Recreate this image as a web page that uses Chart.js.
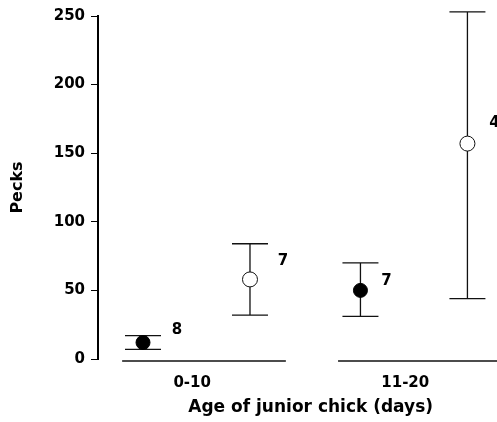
<!DOCTYPE html>
<html>
<head>
<meta charset="utf-8">
<script src="https://cdn.jsdelivr.net/npm/chart.js@4.4.1/dist/chart.umd.min.js"></script>
<style>
  html, body { margin: 0; padding: 0; background: #fff; }
  canvas { display: block; }
</style>
</head>
<body>
<canvas id="grafico" width="497" height="422"></canvas>
<script>
// Bicadas por idade do filhote mais novo: média com barras de erro.
const categorias = ['0-10', '11-20'];
const posCategoria = [0, 1];
const posRotulo = [-0.02, 0.96];
const deslocamento = 0.246;

// círculos cheios
const mediaCheio = [12, 50];
const supCheio = [17, 70];
const infCheio = [7, 31];
const nCheio = ['8', '7'];
const alturaNCheio = [21, 57];

// círculos vazios
const mediaVazio = [58, 157];
const supVazio = [84, 253];
const infVazio = [32, 44];
const nVazio = ['7', '4'];
const alturaNVazio = [71, 172];

// trechos da linha de base sob cada grupo
const trechosBase = [[-0.342, 0.411], [0.651, 1.382]];
const ticksY = [0, 50, 100, 150, 200, 250];

const FONTE = { family: '"DejaVu Sans", sans-serif', size: 15, weight: 'bold' };
const FONTE_TITULO = { ...FONTE, size: 16 };
const css = (f) => `bold ${f.size}px ${f.family}`;

// afastamento horizontal (px) dos rótulos de n
const dxCheio = [34, 26];
const dxVazio = [33, 27];

const pontosCheio = posCategoria.map((c, i) => ({ x: c - deslocamento, y: mediaCheio[i] }));
const pontosVazio = posCategoria.map((c, i) => ({ x: c + deslocamento, y: mediaVazio[i] }));

const extras = {
  id: 'extras',
  beforeDatasetsDraw(chart) {
    const { ctx, scales: { x, y } } = chart;
    ctx.save();
    ctx.strokeStyle = '#111';
    ctx.lineWidth = 1.3;
    const barra = (xv, lo, hi) => {
      const px = x.getPixelForValue(xv);
      const pLo = y.getPixelForValue(lo);
      const pHi = y.getPixelForValue(hi);
      const meia = 18;
      ctx.beginPath();
      ctx.moveTo(px, pLo); ctx.lineTo(px, pHi);
      ctx.moveTo(px - meia, pLo); ctx.lineTo(px + meia, pLo);
      ctx.moveTo(px - meia, pHi); ctx.lineTo(px + meia, pHi);
      ctx.stroke();
    };
    pontosCheio.forEach((p, i) => barra(p.x, infCheio[i], supCheio[i]));
    pontosVazio.forEach((p, i) => barra(p.x, infVazio[i], supVazio[i]));

    ctx.lineWidth = 1.5;
    const yBase = y.getPixelForValue(0) + 2;
    trechosBase.forEach(([a, b]) => {
      ctx.beginPath();
      ctx.moveTo(x.getPixelForValue(a), yBase);
      ctx.lineTo(x.getPixelForValue(b), yBase);
      ctx.stroke();
    });
    ctx.restore();
  },
  afterDatasetsDraw(chart) {
    const { ctx, scales: { x, y } } = chart;
    ctx.save();
    ctx.fillStyle = '#000';
    ctx.font = css(FONTE);
    ctx.textAlign = 'center';
    ctx.textBaseline = 'middle';
    pontosCheio.forEach((p, i) => ctx.fillText(nCheio[i], x.getPixelForValue(p.x) + dxCheio[i], y.getPixelForValue(alturaNCheio[i])));
    pontosVazio.forEach((p, i) => ctx.fillText(nVazio[i], x.getPixelForValue(p.x) + dxVazio[i], y.getPixelForValue(alturaNVazio[i])));

    // título do eixo x
    ctx.font = `bold 17px ${FONTE.family}`;
    ctx.fillText('Age of junior chick (days)', x.getPixelForValue(0.525), y.getPixelForValue(0) + 49);
    ctx.restore();
  },
};

new Chart(document.getElementById('grafico'), {
  type: 'scatter',
  data: {
    datasets: [
      { data: pontosCheio, pointRadius: 7, pointBackgroundColor: '#000', pointBorderColor: '#000', pointBorderWidth: 1 },
      { data: pontosVazio, pointRadius: 7.5, pointBackgroundColor: '#fff', pointBorderColor: '#111', pointBorderWidth: 1 },
    ],
  },
  options: {
    responsive: false,
    animation: false,
    layout: { autoPadding: false, padding: { top: 16, left: 0, right: 0, bottom: 0 } },
    plugins: { legend: { display: false }, tooltip: { enabled: false } },
    scales: {
      x: {
        type: 'linear', min: -0.453, max: 1.382,
        grid: { display: false }, border: { display: false },
        afterBuildTicks: (s) => { s.ticks = posRotulo.map((v) => ({ value: v })); },
        afterFit: (s) => { s.height = 63; s.paddingLeft = 0; s.paddingRight = 0; },
        ticks: {
          autoSkip: false, maxRotation: 0, padding: 7, color: '#000', font: FONTE,
          callback: (v, i) => categorias[i],
        },
      },
      y: {
        min: 0, max: 250,
        afterBuildTicks: (s) => { s.ticks = ticksY.map((v) => ({ value: v })); },
        afterFit: (s) => { s.width = 98; },
        grid: { drawOnChartArea: false, drawTicks: true, tickLength: 7, color: '#000', lineWidth: 1 },
        border: { display: true, color: '#000', width: 2 },
        ticks: { padding: 6, color: '#000', font: FONTE },
        title: { display: true, text: 'Pecks', color: '#000', font: FONTE_TITULO, padding: { top: 8 } },
      },
    },
  },
  plugins: [extras],
});
</script>
</body>
</html>
